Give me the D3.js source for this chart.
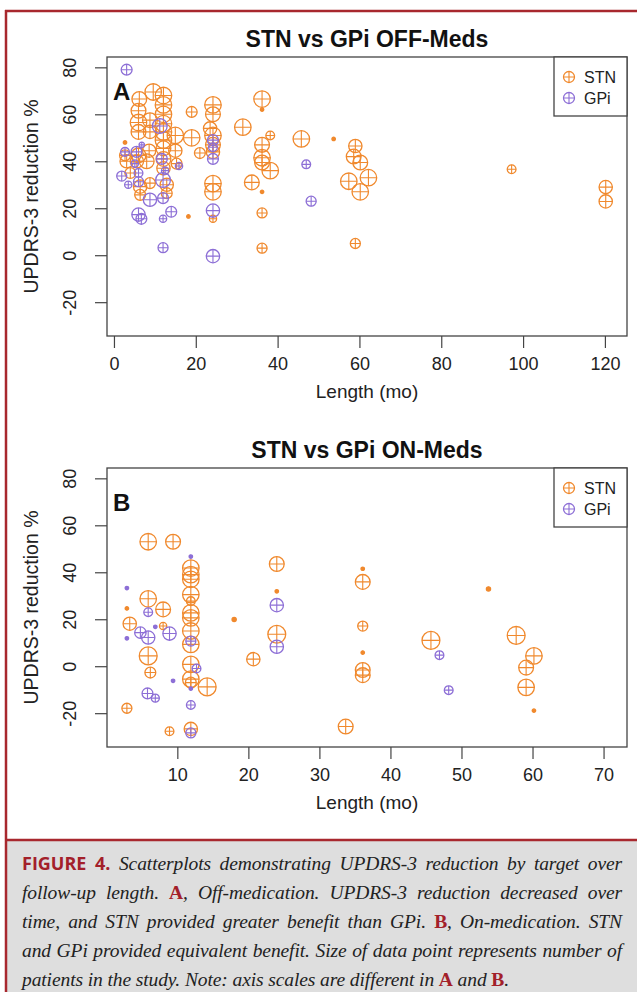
<!DOCTYPE html>
<html>
<head>
<meta charset="utf-8">
<script src="https://cdn.jsdelivr.net/npm/d3@7"></script>
<style>
  body { margin: 0; background: #fff; }
  #wrap { position: relative; width: 637px; height: 992px; overflow: hidden; }
  #wrap svg { position: absolute; left: 0; top: 0; }
  #cap { position: absolute; left: 22px; top: 849px; width: 600px;
         font-family: "Liberation Serif", serif; font-style: italic; font-size: 19.5px;
         letter-spacing: -0.1px; line-height: 29px; color: #222; }
  #cap div { text-align: justify; text-align-last: justify; white-space: nowrap; }
  #cap div.last { text-align-last: left; }
  #cap .fig { font-family: "Open Sans", sans-serif; font-style: normal; font-weight: 700;
              font-size: 18px; letter-spacing: 0; color: #a3202a; }
  #cap .ref { font-style: normal; font-weight: 700; color: #a3202a; }
</style>
</head>
<body>
<div id="wrap">
  <div id="cap">
    <div><span class="fig">FIGURE 4.</span> Scatterplots demonstrating UPDRS-3 reduction by target over</div>
    <div>follow-up length. <span class="ref">A</span>, Off-medication. UPDRS-3 reduction decreased over</div>
    <div>time, and STN provided greater benefit than GPi. <span class="ref">B</span>, On-medication. STN</div>
    <div>and GPi provided equivalent benefit. Size of data point represents number of</div>
    <div class="last">patients in the study. Note: axis scales are different in <span class="ref">A</span> and <span class="ref">B</span>.</div>
  </div>
</div>
<script>
////////////////////////////////////////////////
// data: [length (mo), UPDRS-3 reduction %, patients]

var offStn = [
  [9.6,69.5,46],[6.2,66.5,37],[12.1,68,46],[36.2,66.5,46],[36.2,62,2],
  [6,61.5,37],[12.1,64,46],[19,61,20],[24.2,64,46],[24.2,60,37],
  [6,56.5,46],[8.8,57.5,37],[12.1,60,46],[12.1,56,46],[12.1,52.5,46],
  [12.1,49,46],[12.1,45.5,37],[6,52.5,37],[8.8,52.5,30],[15,51,46],
  [19,50,46],[31.5,54.5,46],[38.2,51,13],[36.2,47,37],[45.8,49.5,46],
  [53.7,49.5,2],[59,46.5,30],[24.2,51,46],[24.2,47,37],[23.5,54,30],
  [36.2,41.5,46],[36.2,39.5,37],[38.2,36,46],[58.6,42,37],[60.2,39.5,37],
  [57.4,31.5,46],[60.2,27,46],[62.2,33,46],[33.7,31,37],[36.2,27,2],
  [36.2,18,17],[36.2,3,17],[59,5,17],[18.2,16.5,2],[24.2,15.5,9],
  [24.2,30.5,46],[24.2,27,46],[24.2,44,30],[2.7,48,2],[2.7,42.5,20],
  [3.1,40,30],[5.6,40,30],[8,40,37],[6,42.5,37],[8.6,44.5,30],
  [15,44.5,30],[21,43.5,20],[97.2,36.6,13],[120.2,29,30],[120.2,22.9,30],
  [12.1,41,37],[12.1,37,30],[12.9,30,30],[12.9,26.4,20],[6.4,29.2,30],
  [6.4,25.7,20],[8.8,30.7,20],[15.3,39,20],[4,35,20]
];
var offGpi = [
  [3.1,79,20],[11.2,55,37],[24.2,49,20],[24.2,41,20],[15.9,38,9],
  [14,18.5,20],[12,15.5,9],[6,17.3,30],[6.7,15.5,20],[8.8,23.6,30],
  [12,24.3,20],[12,32,37],[12.5,36,9],[1.9,33.7,17],[3.5,30,9],
  [11.7,41,20],[2.7,44,13],[5.5,44,20],[6.8,47,5],[6,35,13],
  [5.1,39,9],[47,38.7,13],[48.2,23,17],[24.2,19,30],[24.2,-0.4,30],
  [12,3.2,17],[6,31.3,17],[24.2,46,13]
];
var onStn = [
  [5.9,53,46],[9.4,53,37],[11.9,41.8,46],[11.9,39,46],[11.9,37,46],
  [11.9,30.5,46],[11.9,27.7,13],[11.9,22.7,46],[11.9,20.6,46],[11.9,15,46],
  [11.9,9.3,46],[11.9,0.8,46],[11.9,-5.5,46],[11.9,-7,20],[11.9,-26.7,30],
  [14.2,-8.8,54],[5.9,28.7,46],[8,24.2,37],[2.9,24.6,2],[3.3,18.1,30],
  [8,17.1,9],[5.9,4.4,54],[6.2,-2.7,20],[2.9,-17.9,17],[8.9,-27.7,13],
  [18,19.9,3],[24,43.5,37],[24,31.9,2],[24,13.6,54],[20.7,3,30],
  [33.7,-25.7,37],[36.1,41.5,2],[36.1,35.9,37],[36.1,17.1,17],[36.1,5.8,2],
  [36.1,-1.6,37],[36.1,-3.8,37],[53.8,32.9,3],[45.7,11,54],[57.7,13.1,54],
  [60.2,4.4,46],[59.1,-0.6,37],[59.1,-9,46],[60.2,-18.9,2]
];
var onGpi = [
  [11.9,46.7,2],[11.9,10.7,17],[11.9,-9.5,2],[11.9,-16.5,13],[11.9,-28.4,17],
  [12.7,-1,13],[5.9,23,13],[2.9,33.3,2],[2.9,11.9,2],[4.8,14.3,22],
  [5.9,12.2,30],[6.9,16.8,2],[8.9,13.9,30],[5.8,-11.6,20],[6.9,-13.6,11],
  [9.4,-6.2,2],[24,26,30],[24,8.3,30],[46.9,4.7,13],[48.2,-10.2,13]
];

var yTicks = [-20, 0, 20, 40, 60, 80];
var offXTicks = [0, 20, 40, 60, 80, 100, 120];
var onXTicks = [10, 20, 30, 40, 50, 60, 70];
var targets = ["STN", "GPi"];

////////////////////////////////////////////////

var W = 637, H = 992;
var stnColor = "#f0892d", gpiColor = "#8d6fd6";
var boxL = 107, boxR = 627, boxH = 279;
var font = "Liberation Sans, Arial, sans-serif";

var svg = d3.select("#wrap").insert("svg", ":first-child")
    .attr("width", W).attr("height", H);

// outer frame + caption background
svg.append("rect").attr("x", 7).attr("y", 840).attr("width", W).attr("height", H - 840)
    .attr("fill", "#dedede");
svg.append("line").attr("x1", 6).attr("x2", W).attr("y1", 840).attr("y2", 840)
    .attr("stroke", "#a8282e").attr("stroke-width", 2.5);
svg.append("line").attr("x1", 5).attr("x2", W).attr("y1", 11).attr("y2", 11)
    .attr("stroke", "#a8282e").attr("stroke-width", 2.5);
svg.append("line").attr("x1", 6).attr("x2", 6).attr("y1", 10).attr("y2", H)
    .attr("stroke", "#a8282e").attr("stroke-width", 2.5);

var r = d3.scaleSqrt().domain([0, 50]).range([0, 8.6]);

function drawPanel(top, title, letter, xDomain, xTicks, stn, gpi){
    var bottom = top + boxH;
    var x = d3.scaleLinear().domain(xDomain).range([boxL, boxR]);
    var y = d3.scaleLinear().domain([-34.4, 84.4]).range([bottom, top]);
    var g = svg.append("g").attr("font-family", font);

    // axes
    var xa = g.append("g").attr("transform", "translate(0," + bottom + ")")
        .call(d3.axisBottom(x).tickValues(xTicks).tickSize(12).tickPadding(9)
            .tickFormat(function(d){ return String(d); }));
    xa.select(".domain").remove();
    xa.selectAll("line").attr("stroke", "#444").attr("stroke-width", 1.2);
    xa.selectAll("text").attr("font-size", 18).attr("fill", "#222")
        .attr("font-family", font);

    var ya = g.append("g").attr("transform", "translate(" + boxL + ",0)")
        .call(d3.axisLeft(y).tickValues(yTicks).tickSize(12)
            .tickFormat(function(d){ return String(d); }));
    ya.select(".domain").remove();
    ya.selectAll("line").attr("stroke", "#444").attr("stroke-width", 1.2);
    ya.selectAll("text").attr("font-size", 18).attr("fill", "#222")
        .attr("font-family", font)
        .attr("x", null).attr("dy", null)
        .attr("text-anchor", "middle")
        .attr("transform", "translate(-31,0) rotate(-90)");

    g.append("text").attr("x", (boxL + boxR) / 2).attr("y", bottom + 62)
        .attr("text-anchor", "middle").attr("font-size", 19).attr("fill", "#222")
        .text("Length (mo)");
    g.append("text")
        .attr("transform", "translate(38," + (top + boxH / 2) + ") rotate(-90)")
        .attr("text-anchor", "middle").attr("font-size", 19.5).attr("fill", "#222")
        .text("UPDRS-3 reduction %");
    g.append("text").attr("x", (boxL + boxR) / 2).attr("y", top - 10)
        .attr("text-anchor", "middle").attr("font-size", 23).attr("font-weight", "bold")
        .attr("fill", "#111").text(title);

    // points
    function pts(data, color){
        var p = g.append("g").selectAll("g").data(data).enter().append("g")
            .attr("transform", function(d){ return "translate(" + x(d[0]) + "," + y(d[1]) + ")"; });
        p.append("circle").attr("r", function(d){ return r(d[2]); })
            .attr("fill", function(d){ return r(d[2]) < 2.2 ? color : "none"; })
            .attr("stroke", color).attr("stroke-width", 1.3);
        p.append("path").attr("d", function(d){
            var k = r(d[2]);
            return "M" + (-k) + ",0H" + k + "M0," + (-k) + "V" + k;
        }).attr("stroke", color).attr("stroke-width", 1.1);
    }
    pts(stn, stnColor);
    pts(gpi, gpiColor);

    // box
    g.append("rect").attr("x", boxL).attr("y", top).attr("width", boxR - boxL).attr("height", boxH)
        .attr("fill", "none").attr("stroke", "#444").attr("stroke-width", 1.3);

    g.append("text").attr("x", 113).attr("y", top + 43).attr("font-size", 24)
        .attr("font-weight", "bold").attr("fill", "#111").text(letter);

    // legend
    var lg = g.append("g");
    lg.append("rect").attr("x", 554).attr("y", top).attr("width", boxR - 554).attr("height", 59)
        .attr("fill", "#fff").attr("stroke", "#444").attr("stroke-width", 1.3);
    targets.forEach(function(t, i){
        var c = i === 0 ? stnColor : gpiColor;
        var cy = top + 20 + i * 21;
        lg.append("circle").attr("cx", 569).attr("cy", cy).attr("r", 5.5)
            .attr("fill", "none").attr("stroke", c).attr("stroke-width", 1.3);
        lg.append("path").attr("d", "M563.5," + cy + "H574.5M569," + (cy - 5.5) + "V" + (cy + 5.5))
            .attr("stroke", c).attr("stroke-width", 1.1);
        lg.append("text").attr("x", 584).attr("y", cy).attr("dy", "0.35em")
            .attr("font-size", 16).attr("fill", "#222").text(t);
    });
}

drawPanel(57, "STN vs GPi OFF-Meds", "A", [-1.7, 125.4], offXTicks, offStn, offGpi);
drawPanel(468, "STN vs GPi ON-Meds", "B", [0.1, 73.3], onXTicks, onStn, onGpi);
</script>
</body>
</html>
